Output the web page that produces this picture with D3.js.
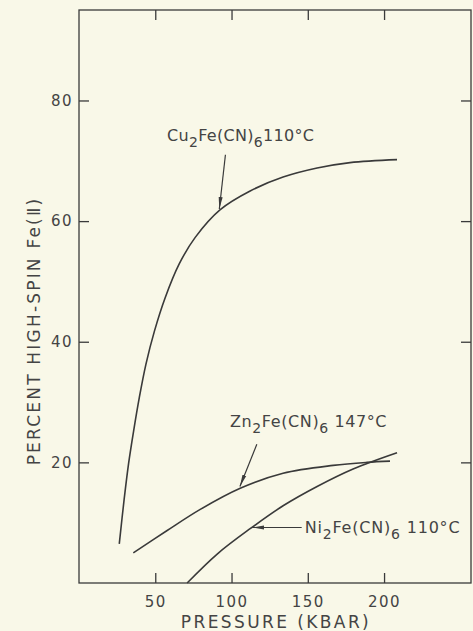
<!DOCTYPE html>
<html>
<head>
<meta charset="utf-8">
<script src="https://cdn.jsdelivr.net/npm/d3@7"></script>
<style>
  html, body { margin: 0; padding: 0; background: #f9f8e8; }
  svg { display: block; }
  text { font-family: "DejaVu Sans", "Liberation Sans", sans-serif; fill: #444; }
</style>
</head>
<body>
<svg id="chart" width="473" height="631"></svg>
<script>
// ---- data ----
const cuPressure = [26.4, 29.7, 32.5, 35.8, 39.5, 43.9, 49.5, 56.5, 65.7, 76.2, 92.6, 112.2, 133.8, 156.1, 177.7, 208.5];
const cuPercent  = [6.5, 14.1, 19.8, 25.2, 30.7, 36.3, 41.8, 47.3, 52.9, 57.3, 61.9, 65.0, 67.3, 68.8, 69.7, 70.2];

const znPressure = [35.6, 57.8, 79.5, 105.7, 133.8, 166.6, 188.8, 203.9];
const znPercent  = [5.0, 8.7, 12.2, 15.7, 18.2, 19.5, 20.0, 20.2];

const niPressure = [70.9, 90.6, 112.2, 133.8, 156.1, 179.7, 208.5];
const niPercent  = [0.0, 4.8, 9.0, 12.8, 16.0, 18.9, 21.6];

const xTicks = [50, 100, 150, 200];
const yTicks = [20, 40, 60, 80];
const xTitle = "PRESSURE (KBAR)";
const yTitle = "PERCENT HIGH-SPIN Fe(Ⅱ)";

const labelNames = ["Cu", "Zn", "Ni"];
const labelTemps = ["110°C", "147°C", "110°C"];
const labelGap   = ["", " ", "  "];
// label anchor (pressure, percent) in data units
const labelPos   = [[57.7, 73.2], [99.0, 25.8], [148.0, 8.3]];
// arrows: from (pressure, percent) to (pressure, percent)
const arrowFrom  = [[96.0, 71.0], [116.6, 23.0], [146.0, 9.2]];
const arrowTo    = [[92.0, 62.0], [105.5, 16.0], [113.5, 9.2]];

// ---- layout ----
const svg = d3.select("#chart");
const mLeft = 79, mRight = 471, mTop = 10, mBottom = 583;
const ink = "#3a3a3a";
const txt = "#444";

svg.append("rect").attr("width", 473).attr("height", 631).attr("fill", "#f9f8e8");

const x = d3.scaleLinear().domain([0, 257]).range([mLeft, mRight]);
const y = d3.scaleLinear().domain([0, 95]).range([mBottom, mTop]);

// frame
svg.append("rect")
  .attr("x", mLeft).attr("y", mTop)
  .attr("width", mRight - mLeft).attr("height", mBottom - mTop)
  .attr("fill", "none").attr("stroke", ink).attr("stroke-width", 1.3);

const tickLen = 10;
function styleAxis(g) {
  g.select(".domain").remove();
  g.selectAll(".tick line").attr("stroke", ink).attr("stroke-width", 1.3);
  g.selectAll(".tick text").attr("fill", txt).style("font-size", "15px")
    .style("letter-spacing", "1.5px")
    .style("font-family", "'DejaVu Sans', 'Liberation Sans', sans-serif");
}

svg.append("g").attr("transform", `translate(0,${mBottom})`)
  .call(d3.axisBottom(x).tickValues(xTicks).tickSizeInner(-tickLen).tickSizeOuter(0).tickPadding(tickLen + 3).tickFormat(d3.format("d")))
  .call(styleAxis);
svg.append("g").attr("transform", `translate(0,${mTop})`)
  .call(d3.axisTop(x).tickValues(xTicks).tickSizeInner(-tickLen).tickSizeOuter(0).tickFormat(""))
  .call(styleAxis);
svg.append("g").attr("transform", `translate(${mLeft},0)`)
  .call(d3.axisLeft(y).tickValues(yTicks).tickSizeInner(-tickLen).tickSizeOuter(0).tickPadding(6).tickFormat(d3.format("d")))
  .call(styleAxis);
svg.append("g").attr("transform", `translate(${mRight},0)`)
  .call(d3.axisRight(y).tickValues(yTicks).tickSizeInner(-tickLen).tickSizeOuter(0).tickFormat(""))
  .call(styleAxis);

// axis titles
svg.append("text")
  .attr("x", 276).attr("y", 628)
  .attr("text-anchor", "middle").style("font-size", "17px").style("letter-spacing", "2.4px")
  .text(xTitle);
svg.append("text")
  .attr("transform", `translate(40,331) rotate(-90)`)
  .attr("text-anchor", "middle").style("font-size", "17px").style("letter-spacing", "2.2px")
  .text(yTitle);

// curves
const line = d3.line().x(d => x(d[0])).y(d => y(d[1])).curve(d3.curveCatmullRom.alpha(0.5));
const series = [
  d3.zip(cuPressure, cuPercent),
  d3.zip(znPressure, znPercent),
  d3.zip(niPressure, niPercent)
];
svg.selectAll("path.curve").data(series).join("path")
  .attr("class", "curve")
  .attr("d", line)
  .attr("fill", "none").attr("stroke", ink).attr("stroke-width", 1.6);

// arrowhead marker
svg.append("defs").append("marker")
  .attr("id", "arrow").attr("viewBox", "0 0 12 6").attr("refX", 12).attr("refY", 3)
  .attr("markerWidth", 12).attr("markerHeight", 6).attr("markerUnits", "userSpaceOnUse")
  .attr("orient", "auto")
  .append("path").attr("d", "M0,1 L12,3 L0,5 Z").attr("fill", ink);

arrowFrom.forEach((f, i) => {
  svg.append("line")
    .attr("x1", x(f[0])).attr("y1", y(f[1]))
    .attr("x2", x(arrowTo[i][0])).attr("y2", y(arrowTo[i][1]))
    .attr("stroke", ink).attr("stroke-width", 1.2)
    .attr("marker-end", "url(#arrow)");
});

// labels with subscripts
const labelSpacing = ["0.3px", "0.6px", "0.8px"];
labelNames.forEach((nm, i) => {
  const t = svg.append("text")
    .attr("x", x(labelPos[i][0])).attr("y", y(labelPos[i][1]))
    .style("font-size", "16px").style("letter-spacing", labelSpacing[i]);
  t.append("tspan").text(nm);
  t.append("tspan").attr("dy", 6).style("font-size", "14px").text("2");
  t.append("tspan").attr("dy", -6).text("Fe(CN)");
  t.append("tspan").attr("dy", 6).style("font-size", "14px").text("6");
  t.append("tspan").attr("dy", -6).text(labelGap[i] + labelTemps[i]);
});
</script>
</body>
</html>
